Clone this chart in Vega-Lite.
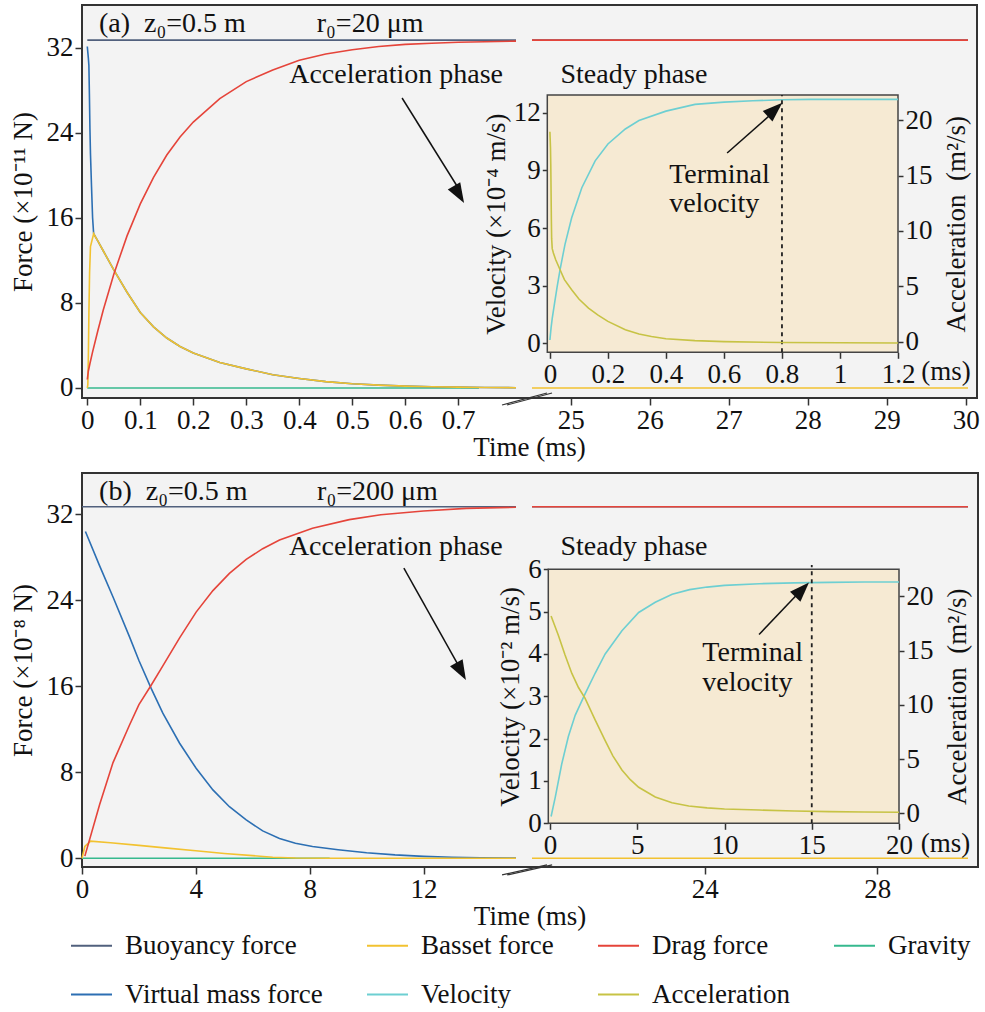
{
  "$schema": "https://vega.github.io/schema/vega-lite/v6.json",
  "padding": {"left": 8, "top": 4, "right": 0, "bottom": 0},
  "background": "white",
  "datasets": {
    "one": [{"k": 1}],
    "aL": [
      {"s": "Buoyancy force", "t": 0, "F": 32.7}, {"s": "Buoyancy force", "t": 0.809, "F": 32.7},
      {"s": "Gravity", "t": 0, "F": 0}, {"s": "Gravity", "t": 0.739, "F": 0},
      {"s": "Virtual mass force", "t": 0, "F": 32.1}, {"s": "Virtual mass force", "t": 0.002, "F": 31.0}, {"s": "Virtual mass force", "t": 0.003, "F": 30.3}, {"s": "Virtual mass force", "t": 0.004, "F": 27.5}, {"s": "Virtual mass force", "t": 0.005, "F": 24.3}, {"s": "Virtual mass force", "t": 0.006, "F": 22.0}, {"s": "Virtual mass force", "t": 0.008, "F": 18.9}, {"s": "Virtual mass force", "t": 0.01, "F": 16.0}, {"s": "Virtual mass force", "t": 0.012, "F": 14.5}, {"s": "Virtual mass force", "t": 0.02, "F": 13.8}, {"s": "Virtual mass force", "t": 0.03, "F": 12.9}, {"s": "Virtual mass force", "t": 0.05, "F": 11.1}, {"s": "Virtual mass force", "t": 0.075, "F": 9.0}, {"s": "Virtual mass force", "t": 0.1, "F": 7.1}, {"s": "Virtual mass force", "t": 0.125, "F": 5.75}, {"s": "Virtual mass force", "t": 0.15, "F": 4.7}, {"s": "Virtual mass force", "t": 0.175, "F": 3.9}, {"s": "Virtual mass force", "t": 0.2, "F": 3.3}, {"s": "Virtual mass force", "t": 0.25, "F": 2.4}, {"s": "Virtual mass force", "t": 0.3, "F": 1.8}, {"s": "Virtual mass force", "t": 0.35, "F": 1.25}, {"s": "Virtual mass force", "t": 0.4, "F": 0.9}, {"s": "Virtual mass force", "t": 0.45, "F": 0.6}, {"s": "Virtual mass force", "t": 0.5, "F": 0.4}, {"s": "Virtual mass force", "t": 0.55, "F": 0.27}, {"s": "Virtual mass force", "t": 0.6, "F": 0.18}, {"s": "Virtual mass force", "t": 0.65, "F": 0.12}, {"s": "Virtual mass force", "t": 0.7, "F": 0.08}, {"s": "Virtual mass force", "t": 0.75, "F": 0.05}, {"s": "Virtual mass force", "t": 0.809, "F": 0.03},
      {"s": "Basset force", "t": 0, "F": 0}, {"s": "Basset force", "t": 0.001, "F": 0.3}, {"s": "Basset force", "t": 0.002, "F": 3.0}, {"s": "Basset force", "t": 0.003, "F": 7.0}, {"s": "Basset force", "t": 0.0043, "F": 10.8}, {"s": "Basset force", "t": 0.006, "F": 13.3}, {"s": "Basset force", "t": 0.012, "F": 14.5}, {"s": "Basset force", "t": 0.02, "F": 13.8}, {"s": "Basset force", "t": 0.03, "F": 12.9}, {"s": "Basset force", "t": 0.05, "F": 11.1}, {"s": "Basset force", "t": 0.075, "F": 9.0}, {"s": "Basset force", "t": 0.1, "F": 7.1}, {"s": "Basset force", "t": 0.125, "F": 5.75}, {"s": "Basset force", "t": 0.15, "F": 4.7}, {"s": "Basset force", "t": 0.175, "F": 3.9}, {"s": "Basset force", "t": 0.2, "F": 3.3}, {"s": "Basset force", "t": 0.25, "F": 2.4}, {"s": "Basset force", "t": 0.3, "F": 1.8}, {"s": "Basset force", "t": 0.35, "F": 1.25}, {"s": "Basset force", "t": 0.4, "F": 0.9}, {"s": "Basset force", "t": 0.45, "F": 0.6}, {"s": "Basset force", "t": 0.5, "F": 0.4}, {"s": "Basset force", "t": 0.55, "F": 0.27}, {"s": "Basset force", "t": 0.6, "F": 0.18}, {"s": "Basset force", "t": 0.65, "F": 0.12}, {"s": "Basset force", "t": 0.7, "F": 0.08}, {"s": "Basset force", "t": 0.75, "F": 0.05}, {"s": "Basset force", "t": 0.809, "F": 0.03},
      {"s": "Drag force", "t": 0, "F": 0.8}, {"s": "Drag force", "t": 0.002, "F": 1.6}, {"s": "Drag force", "t": 0.005, "F": 2.3}, {"s": "Drag force", "t": 0.01, "F": 3.4}, {"s": "Drag force", "t": 0.02, "F": 5.4}, {"s": "Drag force", "t": 0.03, "F": 7.3}, {"s": "Drag force", "t": 0.05, "F": 10.7}, {"s": "Drag force", "t": 0.075, "F": 14.3}, {"s": "Drag force", "t": 0.1, "F": 17.3}, {"s": "Drag force", "t": 0.125, "F": 19.8}, {"s": "Drag force", "t": 0.15, "F": 21.9}, {"s": "Drag force", "t": 0.175, "F": 23.6}, {"s": "Drag force", "t": 0.2, "F": 25.0}, {"s": "Drag force", "t": 0.25, "F": 27.2}, {"s": "Drag force", "t": 0.3, "F": 28.8}, {"s": "Drag force", "t": 0.35, "F": 29.9}, {"s": "Drag force", "t": 0.4, "F": 30.8}, {"s": "Drag force", "t": 0.45, "F": 31.4}, {"s": "Drag force", "t": 0.5, "F": 31.8}, {"s": "Drag force", "t": 0.55, "F": 32.1}, {"s": "Drag force", "t": 0.6, "F": 32.3}, {"s": "Drag force", "t": 0.65, "F": 32.4}, {"s": "Drag force", "t": 0.7, "F": 32.5}, {"s": "Drag force", "t": 0.75, "F": 32.55}, {"s": "Drag force", "t": 0.809, "F": 32.6}
    ],
    "aR": [
      {"s": "Buoyancy force", "t": 24.51, "F": 32.7}, {"s": "Buoyancy force", "t": 30.03, "F": 32.7},
      {"s": "Basset force", "t": 24.51, "F": 0}, {"s": "Basset force", "t": 30.03, "F": 0},
      {"s": "Drag force", "t": 24.51, "F": 32.7}, {"s": "Drag force", "t": 30.03, "F": 32.7}
    ],
    "aI": [
      {"s": "Velocity", "t": 0, "v": 0.17}, {"s": "Velocity", "t": 0.004, "v": 0.8}, {"s": "Velocity", "t": 0.008, "v": 1.3}, {"s": "Velocity", "t": 0.017, "v": 2.18}, {"s": "Velocity", "t": 0.025, "v": 2.95}, {"s": "Velocity", "t": 0.035, "v": 3.84}, {"s": "Velocity", "t": 0.052, "v": 5.15}, {"s": "Velocity", "t": 0.075, "v": 6.54}, {"s": "Velocity", "t": 0.11, "v": 8.1}, {"s": "Velocity", "t": 0.156, "v": 9.5}, {"s": "Velocity", "t": 0.2, "v": 10.38}, {"s": "Velocity", "t": 0.26, "v": 11.16}, {"s": "Velocity", "t": 0.307, "v": 11.6}, {"s": "Velocity", "t": 0.4, "v": 12.09}, {"s": "Velocity", "t": 0.5, "v": 12.44}, {"s": "Velocity", "t": 0.6, "v": 12.56}, {"s": "Velocity", "t": 0.7, "v": 12.63}, {"s": "Velocity", "t": 0.8, "v": 12.68}, {"s": "Velocity", "t": 0.9, "v": 12.7}, {"s": "Velocity", "t": 1.0, "v": 12.7}, {"s": "Velocity", "t": 1.2, "v": 12.7},
      {"s": "Acceleration", "t": 0, "v": 18.95}, {"s": "Acceleration", "t": 0.002, "v": 17.5}, {"s": "Acceleration", "t": 0.003, "v": 16.0}, {"s": "Acceleration", "t": 0.005, "v": 11.0}, {"s": "Acceleration", "t": 0.006, "v": 9.3}, {"s": "Acceleration", "t": 0.008, "v": 8.4}, {"s": "Acceleration", "t": 0.012, "v": 8.0}, {"s": "Acceleration", "t": 0.02, "v": 7.4}, {"s": "Acceleration", "t": 0.035, "v": 6.49}, {"s": "Acceleration", "t": 0.05, "v": 5.6}, {"s": "Acceleration", "t": 0.075, "v": 4.68}, {"s": "Acceleration", "t": 0.1, "v": 3.85}, {"s": "Acceleration", "t": 0.133, "v": 3.03}, {"s": "Acceleration", "t": 0.166, "v": 2.4}, {"s": "Acceleration", "t": 0.2, "v": 1.83}, {"s": "Acceleration", "t": 0.26, "v": 1.08}, {"s": "Acceleration", "t": 0.307, "v": 0.69}, {"s": "Acceleration", "t": 0.35, "v": 0.47}, {"s": "Acceleration", "t": 0.4, "v": 0.27}, {"s": "Acceleration", "t": 0.5, "v": 0.09}, {"s": "Acceleration", "t": 0.6, "v": 0.0}, {"s": "Acceleration", "t": 0.8, "v": -0.08}, {"s": "Acceleration", "t": 1.0, "v": -0.1}, {"s": "Acceleration", "t": 1.2, "v": -0.12}
    ],
    "bL": [
      {"s": "Buoyancy force", "t": 0, "F": 32.7}, {"s": "Buoyancy force", "t": 15.25, "F": 32.7},
      {"s": "Gravity", "t": 0, "F": 0}, {"s": "Gravity", "t": 8.7, "F": 0},
      {"s": "Virtual mass force", "t": 0.12, "F": 30.4}, {"s": "Virtual mass force", "t": 0.62, "F": 27.2}, {"s": "Virtual mass force", "t": 1.09, "F": 24.3}, {"s": "Virtual mass force", "t": 1.67, "F": 20.6}, {"s": "Virtual mass force", "t": 2.0, "F": 18.4}, {"s": "Virtual mass force", "t": 2.43, "F": 15.8}, {"s": "Virtual mass force", "t": 2.84, "F": 13.5}, {"s": "Virtual mass force", "t": 3.43, "F": 10.7}, {"s": "Virtual mass force", "t": 4.01, "F": 8.37}, {"s": "Virtual mass force", "t": 4.6, "F": 6.36}, {"s": "Virtual mass force", "t": 5.18, "F": 4.8}, {"s": "Virtual mass force", "t": 5.77, "F": 3.57}, {"s": "Virtual mass force", "t": 6.35, "F": 2.55}, {"s": "Virtual mass force", "t": 6.94, "F": 1.85}, {"s": "Virtual mass force", "t": 7.5, "F": 1.4}, {"s": "Virtual mass force", "t": 8.1, "F": 1.1}, {"s": "Virtual mass force", "t": 9.0, "F": 0.8}, {"s": "Virtual mass force", "t": 10, "F": 0.52}, {"s": "Virtual mass force", "t": 11, "F": 0.32}, {"s": "Virtual mass force", "t": 12, "F": 0.18}, {"s": "Virtual mass force", "t": 13, "F": 0.09}, {"s": "Virtual mass force", "t": 14, "F": 0.04}, {"s": "Virtual mass force", "t": 15.25, "F": 0.02},
      {"s": "Basset force", "t": 0, "F": 0}, {"s": "Basset force", "t": 0.1, "F": 1.1}, {"s": "Basset force", "t": 0.3, "F": 1.6}, {"s": "Basset force", "t": 1, "F": 1.45}, {"s": "Basset force", "t": 2, "F": 1.2}, {"s": "Basset force", "t": 3, "F": 0.95}, {"s": "Basset force", "t": 4, "F": 0.7}, {"s": "Basset force", "t": 5, "F": 0.45}, {"s": "Basset force", "t": 6, "F": 0.25}, {"s": "Basset force", "t": 6.7, "F": 0.1}, {"s": "Basset force", "t": 7.5, "F": 0.03}, {"s": "Basset force", "t": 8.7, "F": 0}, {"s": "Basset force", "t": 15.25, "F": 0},
      {"s": "Drag force", "t": 0.1, "F": 0.2}, {"s": "Drag force", "t": 0.62, "F": 5.0}, {"s": "Drag force", "t": 1.09, "F": 8.9}, {"s": "Drag force", "t": 1.67, "F": 12.4}, {"s": "Drag force", "t": 2.0, "F": 14.3}, {"s": "Drag force", "t": 2.43, "F": 16.1}, {"s": "Drag force", "t": 2.84, "F": 17.9}, {"s": "Drag force", "t": 3.43, "F": 20.5}, {"s": "Drag force", "t": 4.01, "F": 22.9}, {"s": "Drag force", "t": 4.6, "F": 24.9}, {"s": "Drag force", "t": 5.18, "F": 26.5}, {"s": "Drag force", "t": 5.77, "F": 27.8}, {"s": "Drag force", "t": 6.35, "F": 28.8}, {"s": "Drag force", "t": 6.94, "F": 29.6}, {"s": "Drag force", "t": 8.1, "F": 30.7}, {"s": "Drag force", "t": 9.39, "F": 31.5}, {"s": "Drag force", "t": 10.5, "F": 31.95}, {"s": "Drag force", "t": 12, "F": 32.3}, {"s": "Drag force", "t": 13.5, "F": 32.55}, {"s": "Drag force", "t": 15.25, "F": 32.65}
    ],
    "bR": [
      {"s": "Buoyancy force", "t": 20, "F": 32.7}, {"s": "Buoyancy force", "t": 30.1, "F": 32.7},
      {"s": "Basset force", "t": 20, "F": 0}, {"s": "Basset force", "t": 30.1, "F": 0},
      {"s": "Drag force", "t": 20, "F": 32.7}, {"s": "Drag force", "t": 30.1, "F": 32.7}
    ],
    "bI": [
      {"s": "Velocity", "t": 0.06, "v": 0.16}, {"s": "Velocity", "t": 0.3, "v": 0.62}, {"s": "Velocity", "t": 0.67, "v": 1.4}, {"s": "Velocity", "t": 1.05, "v": 2.05}, {"s": "Velocity", "t": 1.44, "v": 2.55}, {"s": "Velocity", "t": 2.0, "v": 3.05}, {"s": "Velocity", "t": 2.59, "v": 3.55}, {"s": "Velocity", "t": 3.16, "v": 4.0}, {"s": "Velocity", "t": 4.12, "v": 4.55}, {"s": "Velocity", "t": 5.08, "v": 4.98}, {"s": "Velocity", "t": 6.03, "v": 5.22}, {"s": "Velocity", "t": 7.0, "v": 5.41}, {"s": "Velocity", "t": 8.0, "v": 5.52}, {"s": "Velocity", "t": 9.0, "v": 5.58}, {"s": "Velocity", "t": 10, "v": 5.62}, {"s": "Velocity", "t": 12, "v": 5.66}, {"s": "Velocity", "t": 14, "v": 5.68}, {"s": "Velocity", "t": 16, "v": 5.69}, {"s": "Velocity", "t": 18, "v": 5.7}, {"s": "Velocity", "t": 20, "v": 5.7},
      {"s": "Acceleration", "t": 0.06, "v": 18.2}, {"s": "Acceleration", "t": 0.48, "v": 16.4}, {"s": "Acceleration", "t": 0.86, "v": 14.6}, {"s": "Acceleration", "t": 1.25, "v": 12.9}, {"s": "Acceleration", "t": 1.63, "v": 11.6}, {"s": "Acceleration", "t": 2.01, "v": 10.6}, {"s": "Acceleration", "t": 2.59, "v": 8.6}, {"s": "Acceleration", "t": 3.16, "v": 6.7}, {"s": "Acceleration", "t": 3.6, "v": 5.3}, {"s": "Acceleration", "t": 4.12, "v": 4.0}, {"s": "Acceleration", "t": 4.6, "v": 3.1}, {"s": "Acceleration", "t": 5.08, "v": 2.4}, {"s": "Acceleration", "t": 6.03, "v": 1.5}, {"s": "Acceleration", "t": 6.99, "v": 0.98}, {"s": "Acceleration", "t": 7.95, "v": 0.68}, {"s": "Acceleration", "t": 9, "v": 0.5}, {"s": "Acceleration", "t": 10, "v": 0.4}, {"s": "Acceleration", "t": 12, "v": 0.3}, {"s": "Acceleration", "t": 14, "v": 0.22}, {"s": "Acceleration", "t": 16, "v": 0.16}, {"s": "Acceleration", "t": 18, "v": 0.12}, {"s": "Acceleration", "t": 20, "v": 0.1}
    ]
  },
  "spacing": 75,
  "bounds": "flush",
  "resolve": {"scale": {"color": "shared"}, "legend": {"color": "shared"}},
  "vconcat": [
    {
      "width": 895, "height": 393,
      "title": {"text": "Time (ms)", "orient": "bottom", "anchor": "middle", "offset": 2},
      "resolve": {"scale": {"x": "independent", "y": "independent"}, "axis": {"x": "independent", "y": "independent"}},
      "layer": [
        {
          "layer": [
            {
              "data": {"name": "aL"},
              "mark": {"type": "line", "strokeWidth": 1.6},
              "encoding": {
                "x": {"field": "t", "type": "quantitative", "scale": {"domain": [-0.01, 0.809], "range": [0, 434], "nice": false, "zero": false}, "axis": {"orient": "bottom", "values": [0, 0.1, 0.2, 0.3, 0.4, 0.5, 0.6, 0.7], "format": "~g", "title": null}},
                "y": {"field": "F", "type": "quantitative", "scale": {"domain": [-0.94, 36], "nice": false, "zero": false}, "axis": {"orient": "left", "values": [0, 8, 16, 24, 32], "title": "Force (×10⁻¹¹ N)", "titlePadding": 9}},
                "color": {"field": "s", "type": "nominal", "scale": {"domain": ["Buoyancy force", "Basset force", "Drag force", "Gravity", "Virtual mass force", "Velocity", "Acceleration"], "range": ["#51607d", "#f2c230", "#e5443a", "#36b98e", "#2c6fb3", "#6dcfd2", "#c7c345"]}, "legend": {"title": null}}
              }
            },
            {"data": {"name": "one"}, "mark": {"type": "text", "align": "left", "baseline": "middle", "text": "(a)\u00a0 z₀=0.5 m"}, "encoding": {"x": {"datum": 0.022, "type": "quantitative"}, "y": {"datum": 34.2, "type": "quantitative"}}},
            {"data": {"name": "one"}, "mark": {"type": "text", "align": "left", "baseline": "middle", "text": "r₀=20 μm"}, "encoding": {"x": {"datum": 0.433, "type": "quantitative"}, "y": {"datum": 34.2, "type": "quantitative"}}},
            {"data": {"name": "one"}, "mark": {"type": "text", "align": "left", "baseline": "middle", "text": "Acceleration phase"}, "encoding": {"x": {"datum": 0.381, "type": "quantitative"}, "y": {"datum": 29.4, "type": "quantitative"}}},
            {"data": {"name": "one"}, "mark": {"type": "rule", "color": "#111", "strokeWidth": 1.5}, "encoding": {"x": {"datum": 0.594, "type": "quantitative"}, "y": {"datum": 27.26, "type": "quantitative"}, "x2": {"datum": 0.705}, "y2": {"datum": 18.4}}},
            {"data": {"name": "one"}, "mark": {"type": "point", "shape": "M0,0L-0.4,1.1L0.4,1.1Z", "filled": true, "color": "#111", "opacity": 1, "size": 1300, "angle": 149.5, "strokeWidth": 0}, "encoding": {"x": {"datum": 0.711, "type": "quantitative"}, "y": {"datum": 17.39, "type": "quantitative"}}},
            {"data": {"name": "one"}, "mark": {"type": "rule", "color": "#333", "strokeWidth": 1.2}, "encoding": {"x": {"datum": 0.7826, "type": "quantitative"}, "y": {"datum": -1.6, "type": "quantitative"}, "x2": {"datum": 0.8675}, "y2": {"datum": -0.47}}},
            {"data": {"name": "one"}, "mark": {"type": "rule", "color": "#333", "strokeWidth": 1.2}, "encoding": {"x": {"datum": 0.792, "type": "quantitative"}, "y": {"datum": -1.6, "type": "quantitative"}, "x2": {"datum": 0.877}, "y2": {"datum": -0.47}}}
          ]
        },
        {
          "layer": [
            {
              "data": {"name": "aR"},
              "mark": {"type": "line", "strokeWidth": 1.6},
              "encoding": {
                "x": {"field": "t", "type": "quantitative", "scale": {"domain": [24.51, 30.03], "range": [450, 886], "nice": false, "zero": false}, "axis": {"orient": "bottom", "values": [25, 26, 27, 28, 29, 30], "format": "~g", "title": null}},
                "y": {"field": "F", "type": "quantitative", "scale": {"domain": [-0.94, 36], "nice": false, "zero": false}, "axis": null},
                "color": {"field": "s", "type": "nominal", "legend": {"title": null}}
              }
            },
            {"data": {"name": "one"}, "mark": {"type": "text", "align": "left", "baseline": "middle", "text": "Steady phase"}, "encoding": {"x": {"datum": 24.87, "type": "quantitative"}, "y": {"datum": 29.4, "type": "quantitative"}}}
          ]
        },
        {
          "resolve": {"scale": {"y": "independent"}, "axis": {"y": "independent"}},
          "layer": [
            {
              "layer": [
                {"data": {"name": "one"}, "mark": {"type": "rect", "fill": "#f6ead3", "stroke": "#444", "strokeWidth": 1.5}, "encoding": {"x": {"datum": -0.009, "type": "quantitative", "scale": {"domain": [-0.009, 1.2], "range": [465.3, 816], "nice": false, "zero": false}}, "x2": {"datum": 1.2}, "y": {"datum": -0.47, "type": "quantitative", "scale": {"domain": [-0.47, 12.93], "range": [347.3, 90], "nice": false, "zero": false}}, "y2": {"datum": 12.93}}},
                {
                  "data": {"name": "aI"},
                  "transform": [{"filter": "datum.s == 'Velocity'"}],
                  "mark": {"type": "line", "strokeWidth": 1.6},
                  "encoding": {
                    "x": {"field": "t", "type": "quantitative", "scale": {"domain": [-0.009, 1.2], "range": [465.3, 816], "nice": false, "zero": false}, "axis": {"orient": "bottom", "offset": -45.7, "values": [0, 0.2, 0.4, 0.6, 0.8, 1, 1.2], "format": "~g", "title": null, "tickSize": 6, "labelPadding": 3}},
                    "y": {"field": "v", "type": "quantitative", "scale": {"domain": [-0.47, 12.93], "range": [347.3, 90], "nice": false, "zero": false}, "axis": {"orient": "left", "offset": -465.3, "values": [0, 3, 6, 9, 12], "format": "~g", "title": "Velocity (×10⁻⁴ m/s)", "tickSize": 5, "labelPadding": 2, "titlePadding": 3}},
                    "color": {"field": "s", "type": "nominal", "legend": {"title": null}}
                  }
                },
                {"data": {"name": "one"}, "mark": {"type": "rule", "color": "#222", "strokeWidth": 1.8, "strokeDash": [4, 4]}, "encoding": {"x": {"datum": 0.8, "type": "quantitative"}, "y": {"datum": -0.47, "type": "quantitative"}, "y2": {"datum": 12.93}}},
                {"data": {"name": "one"}, "mark": {"type": "text", "align": "left", "baseline": "middle", "text": "Terminal"}, "encoding": {"x": {"datum": 0.411, "type": "quantitative"}, "y": {"datum": 8.77, "type": "quantitative"}}},
                {"data": {"name": "one"}, "mark": {"type": "text", "align": "left", "baseline": "middle", "text": "velocity"}, "encoding": {"x": {"datum": 0.411, "type": "quantitative"}, "y": {"datum": 7.26, "type": "quantitative"}}},
                {"data": {"name": "one"}, "mark": {"type": "rule", "color": "#111", "strokeWidth": 1.5}, "encoding": {"x": {"datum": 0.611, "type": "quantitative"}, "y": {"datum": 9.91, "type": "quantitative"}, "x2": {"datum": 0.79}, "y2": {"datum": 12.3}}},
                {"data": {"name": "one"}, "mark": {"type": "point", "shape": "M0,0L-0.4,1.1L0.4,1.1Z", "filled": true, "color": "#111", "opacity": 1, "size": 1300, "angle": 47.7, "strokeWidth": 0}, "encoding": {"x": {"datum": 0.801, "type": "quantitative"}, "y": {"datum": 12.52, "type": "quantitative"}}},
                {"data": {"name": "one"}, "mark": {"type": "text", "align": "left", "baseline": "middle", "text": "(ms)", "fontSize": 27}, "encoding": {"x": {"datum": 1.28, "type": "quantitative"}, "y": {"datum": -1.49, "type": "quantitative"}}}
              ]
            },
            {
              "data": {"name": "aI"},
              "transform": [{"filter": "datum.s == 'Acceleration'"}],
              "mark": {"type": "line", "strokeWidth": 1.6},
              "encoding": {
                "x": {"field": "t", "type": "quantitative", "scale": {"domain": [-0.009, 1.2], "range": [465.3, 816], "nice": false, "zero": false}},
                "y": {"field": "v", "type": "quantitative", "scale": {"domain": [-0.96, 22.27], "range": [347.3, 90], "nice": false, "zero": false}, "axis": {"orient": "right", "offset": -79, "values": [0, 5, 10, 15, 20], "format": "~g", "title": "Acceleration\u00a0 (m²/s)", "titleAngle": 270, "titleBaseline": "top", "tickSize": 5, "labelPadding": 2, "titlePadding": 11}},
                "color": {"field": "s", "type": "nominal", "legend": {"title": null}}
              }
            }
          ]
        }
      ]
    },
    {
      "width": 896, "height": 394,
      "title": {"text": "Time (ms)", "orient": "bottom", "anchor": "middle", "offset": 2},
      "resolve": {"scale": {"x": "independent", "y": "independent"}, "axis": {"x": "independent", "y": "independent"}},
      "layer": [
        {
          "layer": [
            {
              "data": {"name": "bL"},
              "mark": {"type": "line", "strokeWidth": 1.6},
              "encoding": {
                "x": {"field": "t", "type": "quantitative", "scale": {"domain": [0, 15.25], "range": [0, 434], "nice": false, "zero": false}, "axis": {"orient": "bottom", "values": [0, 4, 8, 12], "format": "~g", "title": null}},
                "y": {"field": "F", "type": "quantitative", "scale": {"domain": [-0.81, 35.84], "nice": false, "zero": false}, "axis": {"orient": "left", "values": [0, 8, 16, 24, 32], "title": "Force (×10⁻⁸ N)", "titlePadding": 9}},
                "color": {"field": "s", "type": "nominal", "legend": {"title": null}}
              }
            },
            {"data": {"name": "one"}, "mark": {"type": "text", "align": "left", "baseline": "middle", "text": "(b)\u00a0 z₀=0.5 m"}, "encoding": {"x": {"datum": 0.6, "type": "quantitative"}, "y": {"datum": 34.1, "type": "quantitative"}}},
            {"data": {"name": "one"}, "mark": {"type": "text", "align": "left", "baseline": "middle", "text": "r₀=200 μm"}, "encoding": {"x": {"datum": 8.26, "type": "quantitative"}, "y": {"datum": 34.1, "type": "quantitative"}}},
            {"data": {"name": "one"}, "mark": {"type": "text", "align": "left", "baseline": "middle", "text": "Acceleration phase"}, "encoding": {"x": {"datum": 7.27, "type": "quantitative"}, "y": {"datum": 28.98, "type": "quantitative"}}},
            {"data": {"name": "one"}, "mark": {"type": "rule", "color": "#111", "strokeWidth": 1.5}, "encoding": {"x": {"datum": 11.31, "type": "quantitative"}, "y": {"datum": 27.0, "type": "quantitative"}, "x2": {"datum": 13.3}, "y2": {"datum": 17.6}}},
            {"data": {"name": "one"}, "mark": {"type": "point", "shape": "M0,0L-0.4,1.1L0.4,1.1Z", "filled": true, "color": "#111", "opacity": 1, "size": 1300, "angle": 151, "strokeWidth": 0}, "encoding": {"x": {"datum": 13.49, "type": "quantitative"}, "y": {"datum": 16.58, "type": "quantitative"}}},
            {"data": {"name": "one"}, "mark": {"type": "rule", "color": "#333", "strokeWidth": 1.2}, "encoding": {"x": {"datum": 14.76, "type": "quantitative"}, "y": {"datum": -1.55, "type": "quantitative"}, "x2": {"datum": 16.34}, "y2": {"datum": -0.62}}},
            {"data": {"name": "one"}, "mark": {"type": "rule", "color": "#333", "strokeWidth": 1.2}, "encoding": {"x": {"datum": 14.94, "type": "quantitative"}, "y": {"datum": -1.55, "type": "quantitative"}, "x2": {"datum": 16.52}, "y2": {"datum": -0.62}}}
          ]
        },
        {
          "layer": [
            {
              "data": {"name": "bR"},
              "mark": {"type": "line", "strokeWidth": 1.6},
              "encoding": {
                "x": {"field": "t", "type": "quantitative", "scale": {"domain": [20, 30.1], "range": [450, 886], "nice": false, "zero": false}, "axis": {"orient": "bottom", "values": [24, 28], "format": "~g", "title": null}},
                "y": {"field": "F", "type": "quantitative", "scale": {"domain": [-0.81, 35.84], "nice": false, "zero": false}, "axis": null},
                "color": {"field": "s", "type": "nominal", "legend": {"title": null}}
              }
            },
            {"data": {"name": "one"}, "mark": {"type": "text", "align": "left", "baseline": "middle", "text": "Steady phase"}, "encoding": {"x": {"datum": 20.66, "type": "quantitative"}, "y": {"datum": 28.98, "type": "quantitative"}}}
          ]
        },
        {
          "resolve": {"scale": {"y": "independent"}, "axis": {"y": "independent"}},
          "layer": [
            {
              "layer": [
                {"data": {"name": "one"}, "mark": {"type": "rect", "fill": "#f6ead3", "stroke": "#444", "strokeWidth": 1.5}, "encoding": {"x": {"datum": -0.1, "type": "quantitative", "scale": {"domain": [-0.1, 20], "range": [466.3, 817], "nice": false, "zero": false}}, "x2": {"datum": 20}, "y": {"datum": 0, "type": "quantitative", "scale": {"domain": [0, 6], "range": [350.3, 96.3], "nice": false, "zero": false}}, "y2": {"datum": 6}}},
                {
                  "data": {"name": "bI"},
                  "transform": [{"filter": "datum.s == 'Velocity'"}],
                  "mark": {"type": "line", "strokeWidth": 1.6},
                  "encoding": {
                    "x": {"field": "t", "type": "quantitative", "scale": {"domain": [-0.1, 20], "range": [466.3, 817], "nice": false, "zero": false}, "axis": {"orient": "bottom", "offset": -43.7, "values": [0, 5, 10, 15, 20], "format": "~g", "title": null, "tickSize": 6, "labelPadding": 3}},
                    "y": {"field": "v", "type": "quantitative", "scale": {"domain": [0, 6], "range": [350.3, 96.3], "nice": false, "zero": false}, "axis": {"orient": "left", "offset": -466.3, "values": [0, 1, 2, 3, 4, 5, 6], "format": "~g", "title": "Velocity (×10⁻² m/s)", "tickSize": 5, "labelPadding": 2, "titlePadding": 3}},
                    "color": {"field": "s", "type": "nominal", "legend": {"title": null}}
                  }
                },
                {"data": {"name": "one"}, "mark": {"type": "rule", "color": "#222", "strokeWidth": 1.8, "strokeDash": [4, 4]}, "encoding": {"x": {"datum": 15, "type": "quantitative"}, "y": {"datum": 0, "type": "quantitative"}, "y2": {"datum": 6.1}}},
                {"data": {"name": "one"}, "mark": {"type": "text", "align": "left", "baseline": "middle", "text": "Terminal"}, "encoding": {"x": {"datum": 8.73, "type": "quantitative"}, "y": {"datum": 4.02, "type": "quantitative"}}},
                {"data": {"name": "one"}, "mark": {"type": "text", "align": "left", "baseline": "middle", "text": "velocity"}, "encoding": {"x": {"datum": 8.73, "type": "quantitative"}, "y": {"datum": 3.31, "type": "quantitative"}}},
                {"data": {"name": "one"}, "mark": {"type": "rule", "color": "#111", "strokeWidth": 1.5}, "encoding": {"x": {"datum": 11.98, "type": "quantitative"}, "y": {"datum": 4.46, "type": "quantitative"}, "x2": {"datum": 14.5}, "y2": {"datum": 5.55}}},
                {"data": {"name": "one"}, "mark": {"type": "point", "shape": "M0,0L-0.4,1.1L0.4,1.1Z", "filled": true, "color": "#111", "opacity": 1, "size": 1300, "angle": 44, "strokeWidth": 0}, "encoding": {"x": {"datum": 14.84, "type": "quantitative"}, "y": {"datum": 5.69, "type": "quantitative"}}},
                {"data": {"name": "one"}, "mark": {"type": "text", "align": "left", "baseline": "middle", "text": "(ms)", "fontSize": 27}, "encoding": {"x": {"datum": 21.25, "type": "quantitative"}, "y": {"datum": -0.48, "type": "quantitative"}}}
              ]
            },
            {
              "data": {"name": "bI"},
              "transform": [{"filter": "datum.s == 'Acceleration'"}],
              "mark": {"type": "line", "strokeWidth": 1.6},
              "encoding": {
                "x": {"field": "t", "type": "quantitative", "scale": {"domain": [-0.1, 20], "range": [466.3, 817], "nice": false, "zero": false}},
                "y": {"field": "v", "type": "quantitative", "scale": {"domain": [-0.92, 22.5], "range": [350.3, 96.3], "nice": false, "zero": false}, "axis": {"orient": "right", "offset": -79, "values": [0, 5, 10, 15, 20], "format": "~g", "title": "Acceleration\u00a0 (m²/s)", "titleAngle": 270, "titleBaseline": "top", "tickSize": 5, "labelPadding": 2, "titlePadding": 11}},
                "color": {"field": "s", "type": "nominal", "legend": {"title": null}}
              }
            }
          ]
        }
      ]
    }
  ],
  "config": {
    "font": "Liberation Serif",
    "view": {"fill": "#f3f3f3", "stroke": "#333", "strokeWidth": 2},
    "axis": {"labelFont": "Liberation Serif", "labelFontSize": 27, "labelColor": "#111", "titleFont": "Liberation Serif", "titleFontSize": 27, "titleFontWeight": "normal", "titleColor": "#111", "tickColor": "#333", "tickWidth": 1.5, "tickSize": 7, "domain": false, "grid": false, "labelPadding": 2, "labelFlush": false, "labelOverlap": false, "labelBound": false},
    "title": {"font": "Liberation Serif", "fontSize": 27, "fontWeight": "normal", "color": "#111"},
    "text": {"font": "Liberation Serif", "fontSize": 28, "color": "#111"},
    "legend": {"orient": "none", "legendX": -12, "legendY": 919, "direction": "horizontal", "columns": 4, "symbolType": "stroke", "symbolSize": 1681, "symbolStrokeWidth": 2, "labelFont": "Liberation Serif", "labelFontSize": 27, "labelColor": "#111", "labelOffset": 12, "labelLimit": 400, "columnPadding": 40, "rowPadding": 14}
  }
}
